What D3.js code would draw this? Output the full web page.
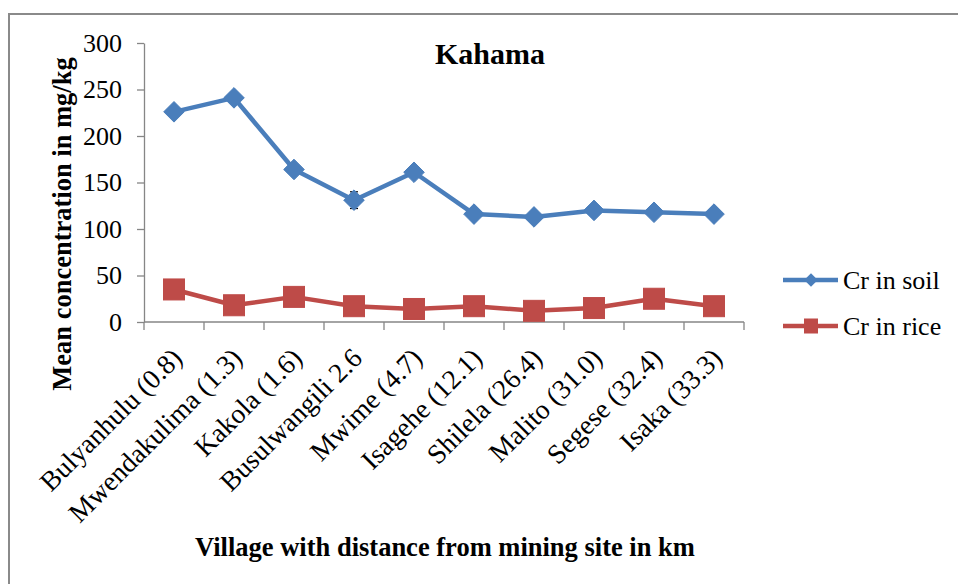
<!DOCTYPE html>
<html><head><meta charset="utf-8">
<script src="https://cdn.jsdelivr.net/npm/d3@7"></script>
<style>body{margin:0;background:#fff;}svg{display:block;}</style>
</head><body>
<svg id="c" width="958" height="584"></svg>
<script>
const villages = ["Bulyanhulu (0.8)","Mwendakulima (1.3)","Kakola (1.6)","Busulwangili 2.6","Mwime (4.7)","Isagehe (12.1)","Shilela (26.4)","Malito (31.0)","Segese (32.4)","Isaka (33.3)"];
const soilValues = [226, 241, 164, 131, 161, 116, 113, 120, 118, 116];
const soilErrors = [0, 0, 0, 9, 0, 0, 0, 0, 0, 0];
const riceValues = [35, 18, 27, 17, 14, 17, 12, 15, 25, 17];
const yTicks = [0, 50, 100, 150, 200, 250, 300];
const seriesNames = ["Cr in soil", "Cr in rice"];

const svg = d3.select("#c");
const serif = "'Liberation Serif','Times New Roman',serif";
const blue = "#4a7ebb", red = "#be4b48", axisCol = "#868686";

// outer border
svg.append("path").attr("d","M9,600 V14 H970").attr("fill","none").attr("stroke","#8a8a8a").attr("stroke-width",2);

const x0 = 144, x1 = 744, yTop = 43, yBot = 322;
const xBand = d3.scaleBand().domain(villages).range([x0, x1]);
const x = d => xBand(d) + xBand.bandwidth()/2;
const y = d3.scaleLinear().domain([0, 300]).range([yBot, yTop]);

// y axis
const ya = svg.append("g").attr("transform",`translate(${x0},0)`)
  .call(d3.axisLeft(y).tickValues(yTicks).tickSize(7).tickPadding(15).tickSizeOuter(0));
ya.select(".domain").attr("stroke",axisCol).attr("stroke-width",1.3);
ya.selectAll(".tick line").attr("stroke",axisCol).attr("stroke-width",1.3);
ya.selectAll("text").attr("font-family",serif).attr("font-size",26).attr("fill","#000");

// x axis
svg.append("line").attr("x1",x0).attr("x2",x1).attr("y1",yBot).attr("y2",yBot).attr("stroke",axisCol).attr("stroke-width",1.3);
const bounds = villages.map(v => xBand(v)).concat([x1]);
svg.selectAll(".xt").data(bounds).enter().append("line")
  .attr("x1",d=>d).attr("x2",d=>d).attr("y1",yBot).attr("y2",yBot+8).attr("stroke",axisCol).attr("stroke-width",1.3);
svg.selectAll(".xl").data(villages).enter().append("text")
  .attr("transform",d=>`translate(${x(d)+3},${yBot+31}) rotate(-45)`)
  .attr("text-anchor","end").attr("font-family",serif).attr("font-size",27.5).attr("fill","#000")
  .attr("dy","0.35em").text(d=>d);

// lines
const line = d3.line().x((d,i)=>x(villages[i])).y(d=>y(d));
svg.append("path").datum(soilValues).attr("d",line).attr("fill","none").attr("stroke",blue).attr("stroke-width",4.5).attr("stroke-linejoin","round");
svg.append("path").datum(riceValues).attr("d",line).attr("fill","none").attr("stroke",red).attr("stroke-width",4.5).attr("stroke-linejoin","round");

// error bars
soilValues.forEach((v,i)=>{
  const e = soilErrors[i]; if(!e) return;
  const cx = x(villages[i]);
  const g = svg.append("g").attr("stroke","#000").attr("stroke-width",1.2);
  g.append("line").attr("x1",cx).attr("x2",cx).attr("y1",y(v+e)).attr("y2",y(v-e));
  g.append("line").attr("x1",cx-4).attr("x2",cx+4).attr("y1",y(v+e)).attr("y2",y(v+e));
  g.append("line").attr("x1",cx-4).attr("x2",cx+4).attr("y1",y(v-e)).attr("y2",y(v-e));
});

// markers
const dia = d3.symbol().type(d3.symbolDiamond2).size(270);
svg.selectAll(".ds").data(soilValues).enter().append("path")
  .attr("d",dia).attr("transform",(d,i)=>`translate(${x(villages[i])},${y(d)})`)
  .attr("fill",blue).attr("stroke",blue).attr("stroke-width",1);
svg.selectAll(".rs").data(riceValues).enter().append("rect")
  .attr("x",(d,i)=>x(villages[i])-10.5).attr("y",d=>y(d)-10.5).attr("width",21).attr("height",21)
  .attr("fill",red).attr("stroke",red).attr("stroke-width",1);

// title
svg.append("text").attr("x",490).attr("y",64).attr("text-anchor","middle").attr("font-family",serif)
  .attr("font-weight","bold").attr("font-size",30).text("Kahama");

// axis titles
svg.append("text").attr("transform","translate(71,224) rotate(-90)").attr("text-anchor","middle")
  .attr("font-family",serif).attr("font-weight","bold").attr("font-size",26.5).text("Mean concentration in mg/kg");
svg.append("text").attr("x",445).attr("y",556).attr("text-anchor","middle")
  .attr("font-family",serif).attr("font-weight","bold").attr("font-size",26.5)
  .text("Village with distance from mining site in km");

// legend
const lg = [{name:seriesNames[0], c:blue, t:"d", ly:280},{name:seriesNames[1], c:red, t:"s", ly:326}];
lg.forEach(l=>{
  svg.append("line").attr("x1",783).attr("x2",838).attr("y1",l.ly).attr("y2",l.ly).attr("stroke",l.c).attr("stroke-width",4.5);
  if(l.t==="d") svg.append("path").attr("d",d3.symbol().type(d3.symbolDiamond2).size(115)).attr("transform",`translate(811,${l.ly})`).attr("fill",l.c);
  else svg.append("rect").attr("x",811-7).attr("y",l.ly-7.5).attr("width",14).attr("height",15).attr("fill",l.c);
  svg.append("text").attr("x",843).attr("y",l.ly).attr("dy","0.35em").attr("font-family",serif).attr("font-size",26).text(l.name);
});
</script>
</body></html>
